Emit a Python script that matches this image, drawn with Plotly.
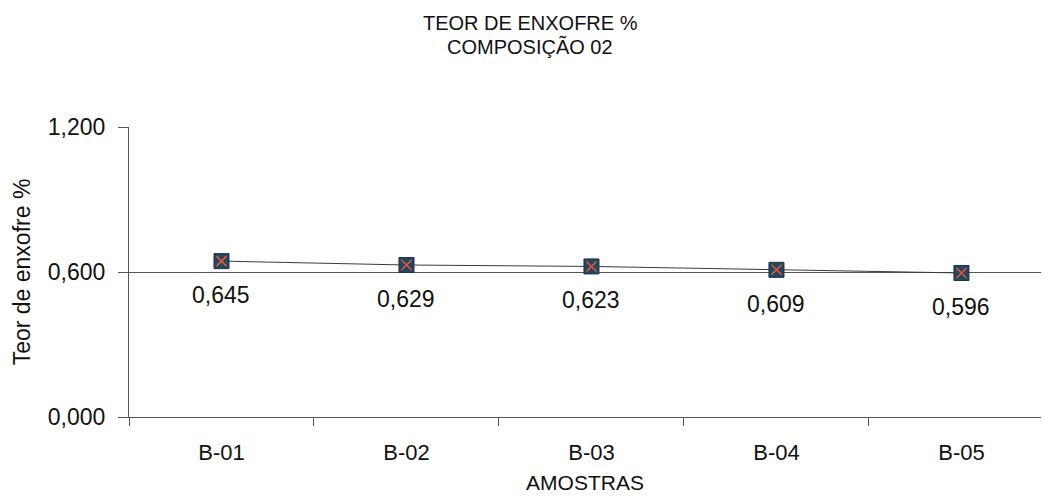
import plotly.graph_objects as go

amostras = ["B-01", "B-02", "B-03", "B-04", "B-05"]
teor = [0.645, 0.629, 0.623, 0.609, 0.596]
y_ticks = [0.0, 0.6, 1.2]
y_tick_text = ["0,000", "0,600", "1,200"]

font = "Liberation Sans, Arial, sans-serif"
labels = [f"{v:.3f}".replace(".", ",") for v in teor]

fig = go.Figure()
# connecting line + dark square markers
fig.add_trace(go.Scatter(
    x=amostras, y=teor, mode="lines+markers",
    line=dict(color="#3a3a3a", width=1),
    marker=dict(symbol="square", size=15, color="#22475f",
                line=dict(color="#1a3347", width=1)),
    hoverinfo="skip", showlegend=False,
))
# red cross drawn over each square
fig.add_trace(go.Scatter(
    x=amostras, y=teor, mode="markers",
    marker=dict(symbol="x-thin-open", size=10,
                line=dict(color="#d8404f", width=1.5)),
    showlegend=False,
))

# value labels under each point
for cat, v, lab in zip(amostras, teor, labels):
    fig.add_annotation(
        x=cat, y=v, text=lab, showarrow=False,
        yanchor="middle", yshift=-34,
        font=dict(family=font, size=23, color="#111111"),
    )

# two-line title
fig.add_annotation(text="TEOR DE ENXOFRE %", xref="paper", yref="paper",
                   x=0.44, y=1.0, yshift=117, showarrow=False,
                   font=dict(size=20, color="#111111"))
fig.add_annotation(text="COMPOSIÇÃO 02", xref="paper", yref="paper",
                   x=0.44, y=1.0, yshift=94, showarrow=False,
                   font=dict(size=20, color="#111111"))

fig.update_layout(
    width=1043, height=504,
    margin=dict(l=129, r=2, t=127, b=87),
    paper_bgcolor="white", plot_bgcolor="white",
    font=dict(family=font, color="#111111"),
)
fig.update_xaxes(
    type="category", range=[-0.5, 4.43],
    showgrid=False, showline=True, linecolor="#555555", linewidth=1,
    ticks="outside", ticklen=8, tickcolor="#555555", tickson="boundaries",
    ticklabelstandoff=16,
    tickfont=dict(size=22),
    title=dict(text="AMOSTRAS", font=dict(size=21), standoff=10),
)
fig.update_yaxes(
    range=[0, 1.2], tickvals=y_ticks, ticktext=y_tick_text,
    showgrid=True, gridcolor="#555555", gridwidth=1,
    showline=True, linecolor="#555555", linewidth=1,
    ticks="outside", ticklen=10, tickcolor="#555555",
    ticklabelstandoff=8,
    tickfont=dict(size=23), zeroline=False,
    title=dict(text="Teor de enxofre %", font=dict(size=23), standoff=10),
)
fig.write_html("out.html")
